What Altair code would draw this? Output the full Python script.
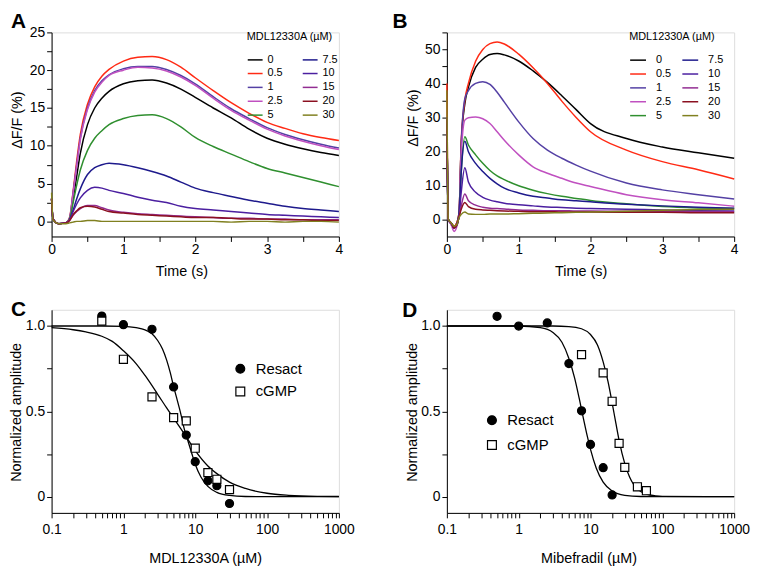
import altair as alt
import pandas as pd

FONT = "Liberation Sans"

# ---------------- Panel A traces (MDL12330A, resact) ----------------
tA = [0, 0.02, 0.1, 0.2, 0.25, 0.3, 0.35, 0.4, 0.5, 0.6, 0.7, 0.8, 1.0, 1.2, 1.4,
      1.6, 1.8, 2.0, 2.25, 2.5, 2.75, 3.0, 3.25, 3.5, 3.75, 4.0]
A_0 = [3, 0.3, -0.3, -0.2, 0.3, 3, 6, 9, 12.8, 15, 16.3, 17.2, 18.2, 18.6, 18.7, 18.3, 17.5, 16.4, 15.0, 13.7, 12.2, 11.0, 10.2, 9.6, 9.1, 8.7]
A_05 = [3, 0.3, -0.3, -0.2, 0.5, 4, 8, 11.5, 15.5, 17.8, 19.2, 20.1, 21.2, 21.7, 21.8, 21.4, 20.4, 19.0, 17.3, 15.7, 14.3, 13.1, 12.3, 11.6, 11.1, 10.7]
A_1 = [3, 0.3, -0.3, -0.2, 0.4, 3.8, 7.5, 11, 15, 17.3, 18.6, 19.4, 20.2, 20.5, 20.5, 20.1, 19.3, 18.2, 16.5, 14.9, 13.6, 12.4, 11.5, 10.8, 10.2, 9.7]
A_25 = [3, 0.3, -0.3, -0.2, 0.4, 3.7, 7.3, 10.8, 14.8, 17.1, 18.4, 19.3, 20.0, 20.4, 20.3, 19.9, 19.1, 18.0, 16.3, 14.7, 13.4, 12.2, 11.3, 10.6, 10.0, 9.5]
A_5 = [3, 0.3, -0.3, -0.2, 0.3, 2.5, 4.8, 6.8, 9.4, 11.0, 12.0, 12.8, 13.6, 14.0, 14.1, 13.6, 12.5, 11.1, 9.9, 8.9, 7.9, 7.0, 6.4, 5.8, 5.2, 4.6]
A_75 = [3, 0.3, -0.3, -0.2, 0.2, 1.5, 3.0, 4.3, 6.2, 7.1, 7.5, 7.7, 7.5, 7.1, 6.6, 6.0, 5.2, 4.4, 3.8, 3.3, 2.8, 2.4, 2.0, 1.7, 1.5, 1.3]
A_10 = [3, 0.3, -0.3, -0.2, 0.2, 1.3, 2.3, 3.1, 4.1, 4.5, 4.4, 4.1, 3.7, 3.2, 2.8, 2.5, 2.0, 1.7, 1.5, 1.3, 1.1, 0.9, 0.8, 0.7, 0.6, 0.5]
A_15 = [3, 0.3, -0.3, -0.2, 0.1, 0.8, 1.3, 1.7, 2.1, 2.1, 1.8, 1.5, 1.2, 1.0, 0.9, 0.8, 0.7, 0.6, 0.5, 0.4, 0.4, 0.3, 0.3, 0.2, 0.2, 0.2]
A_20 = [3, 0.3, -0.3, -0.2, 0.1, 0.9, 1.4, 1.8, 2.0, 1.9, 1.6, 1.3, 1.1, 0.9, 0.8, 0.7, 0.6, 0.5, 0.5, 0.4, 0.3, 0.3, 0.2, 0.2, 0.1, 0.1]
A_30 = [3.8, 0.2, -0.3, -0.3, -0.2, -0.1, 0.0, 0.0, 0.1, 0.1, 0.0, 0.0, 0.0, 0.0, 0.0, 0.0, 0.0, 0.0, 0.0, -0.1, 0.0, 0.0, -0.1, 0.0, 0.0, -0.1]

# ---------------- Panel B traces (MDL12330A, cGMP) ----------------
tB = [0, 0.02, 0.06, 0.1, 0.14, 0.17, 0.2, 0.25, 0.3, 0.4, 0.5, 0.6, 0.7, 0.8,
      1.0, 1.2, 1.4, 1.6, 1.8, 2.0, 2.5, 3.0, 3.5, 4.0]
B_0 = [30, 0, -1, -2, -1, 2, 22, 34, 38.9, 44.7, 47.1, 48.5, 48.8, 48.4, 46.6, 43.7, 40.3, 36.4, 32.3, 28.2, 23.8, 21.3, 19.6, 18.0]
B_05 = [40, 0, -1, -2, -1, 2, 23, 35, 40, 46.5, 50, 51.7, 52.2, 51.6, 48.6, 44.6, 40.0, 34.8, 30.0, 25.8, 20.4, 17.0, 14.6, 11.9]
B_1 = [30, 0, -1.5, -2.5, -1.5, 2, 22, 35.5, 37.9, 40, 40.5, 39.7, 37.4, 34.5, 28.7, 23.8, 20.4, 18.0, 16.0, 14.2, 10.7, 8.7, 7.3, 6.0]
B_25 = [30, 0, -1.5, -3.5, -2, 1.5, 19, 29.2, 29.9, 30.1, 29.6, 28.2, 25.8, 23.3, 19.0, 15.5, 13.6, 12.1, 10.7, 9.7, 7.3, 5.8, 4.9, 3.9]
B_5 = [30, 0, -1, -2.5, -1.5, 1.5, 14, 24.3, 21.9, 19.0, 16.5, 14.4, 12.8, 11.7, 9.9, 8.6, 7.6, 6.8, 6.2, 5.6, 4.6, 3.8, 3.4, 3.2]
B_75 = [30, 0, -1, -2.5, -1.5, 1.5, 14, 23.0, 19.9, 16.5, 14.1, 12.1, 10.5, 9.2, 7.8, 6.8, 6.3, 5.8, 5.5, 5.2, 4.5, 4.0, 3.6, 3.3]
B_10 = [30, 0, -1, -2.5, -1.5, 1, 8, 15.2, 11, 8, 6.5, 5.7, 5.2, 4.8, 4.3, 4.0, 3.7, 3.5, 3.3, 3.2, 3.0, 2.8, 2.6, 2.5]
B_15 = [30, 0, -1, -2.5, -1.5, 0.8, 4, 7.5, 5.5, 4.2, 3.6, 3.3, 3.2, 3.1, 2.8, 2.7, 2.6, 2.6, 2.5, 2.5, 2.4, 2.4, 2.3, 2.3]
B_20 = [30, 0, -1, -2.5, -1.5, 0.8, 3, 5.0, 3.8, 3.0, 2.8, 2.7, 2.6, 2.5, 2.4, 2.3, 2.3, 2.2, 2.2, 2.2, 2.1, 2.1, 2.0, 2.0]
B_30 = [38, 0, -1, -2, -1.5, 0.5, 1.5, 2.2, 1.6, 1.5, 1.5, 1.6, 1.6, 1.6, 1.7, 1.8, 1.9, 2.0, 2.1, 2.2, 2.4, 2.7, 2.9, 3.0]

concs = ["0", "0.5", "1", "2.5", "5", "7.5", "10", "15", "20", "30"]
conc_colors = ["#000000", "#ff2a14", "#5440a4", "#c050c0", "#2f8f2f",
               "#1e1a8c", "#4b1fa0", "#922c92", "#8b1020", "#808020"]

# ---------------- Panel C (MDL12330A dose response) ----------------
C_dose = [0.5, 1, 2.5, 5, 7.5, 10, 15, 20, 30]
C_resact = [1.058, 1.008, 0.981, 0.643, 0.361, 0.205, 0.093, 0.064, -0.04]
C_cgmp = [1.029, 0.805, 0.585, 0.463, 0.444, 0.284, 0.141, 0.102, 0.041]
C_fitR_x = [0.1, 0.5, 1, 1.5, 2, 2.5, 3, 3.5, 4, 4.5, 5, 5.5, 6, 6.5, 7, 7.5, 8, 9, 10, 12, 15, 20, 30, 50, 100, 1000]
C_fitR_y = [1.0, 1.0, 0.998, 0.99, 0.977, 0.955, 0.915, 0.865, 0.80, 0.725, 0.645, 0.58, 0.52, 0.46, 0.40, 0.36, 0.32, 0.25, 0.19, 0.115, 0.06, 0.025, 0.007, 0.001, 0.0, 0.0]
C_fitG_x = [0.1, 0.2, 0.3, 0.5, 0.7, 1, 1.5, 2, 3, 4, 5, 7, 10, 15, 20, 30, 50, 100, 200, 500, 1000]
C_fitG_y = [0.99, 0.978, 0.965, 0.94, 0.91, 0.855, 0.78, 0.71, 0.6, 0.52, 0.46, 0.37, 0.27, 0.18, 0.135, 0.085, 0.048, 0.02, 0.008, 0.002, 0.001]

# ---------------- Panel D (Mibefradil dose response) ----------------
D_dose_R = [0.5, 1, 2.5, 5, 7.5, 10, 15, 20]
D_resact = [1.057, 1.0, 1.018, 0.78, 0.503, 0.306, 0.17, 0.01]
D_dose_G = [7.5, 15, 20, 25, 30, 45, 60]
D_cgmp = [0.832, 0.725, 0.559, 0.312, 0.172, 0.058, 0.035]
D_fitR_x = [0.1, 1, 2, 3, 4, 5, 6, 7, 8, 9, 10, 12, 15, 20, 30, 50, 100, 1000]
D_fitR_y = [1, 1, 0.99, 0.962, 0.905, 0.81, 0.696, 0.571, 0.455, 0.356, 0.277, 0.168, 0.085, 0.033, 0.008, 0.001, 0, 0]
D_fitG_x = [0.1, 1, 3, 5, 7.5, 10, 12.5, 15, 17.5, 20, 22.5, 25, 30, 35, 40, 50, 60, 80, 100, 1000]
D_fitG_y = [1, 1, 1.0, 0.997, 0.984, 0.95, 0.889, 0.79, 0.675, 0.55, 0.432, 0.33, 0.194, 0.115, 0.07, 0.03, 0.015, 0.005, 0.002, 0]

log_ticks = [0.1, 0.2, 0.3, 0.4, 0.5, 0.6, 0.7, 0.8, 0.9,
             1, 2, 3, 4, 5, 6, 7, 8, 9,
             10, 20, 30, 40, 50, 60, 70, 80, 90,
             100, 200, 300, 400, 500, 600, 700, 800, 900, 1000]

W = 290
H1 = 206
H2 = 205

AX = dict(grid=False, domainColor="black", tickColor="black", labelColor="black",
          titleColor="black", labelFont=FONT, titleFont=FONT, labelFontSize=14,
          titleFontSize=14.5, titleFontWeight="normal", labelFlush=False,
          labelOverlap=False, domainWidth=1, tickWidth=1)


def traces_df(t, series):
    rows = []
    for c, vals in zip(concs, series):
        for ti, v in zip(t, vals):
            rows.append({"t": ti, "v": v, "conc": c})
    return pd.DataFrame(rows)


def letter(lab, dx, dy):
    return alt.Chart(pd.DataFrame({"lab": [lab]})).mark_text(
        align="left", baseline="alphabetic", fontSize=21, fontWeight="bold",
        font=FONT, color="black").encode(text="lab:N", x=alt.value(dx), y=alt.value(dy))


def trace_panel(df, ydom, yvals, ylabexpr, ytitleY, xtitleX, leg_x, sym_size, lab_off, col_pad,
                row_pad, title_pad, lab):
    x_axis = alt.Axis(values=[0, 0.5, 1, 1.5, 2, 2.5, 3, 3.5, 4],
                      labelExpr="datum.value % 1 === 0 ? format(datum.value, 'd') : ''",
                      tickSize=5, labelPadding=1, title="Time (s)", titleX=xtitleX, titleY=39,
                      titleBaseline="alphabetic", **AX)
    y_axis = alt.Axis(values=yvals, labelExpr=ylabexpr,
                      tickSize=5, labelPadding=2, title="ΔF/F (%)", titleX=-27, titleY=ytitleY,
                      titleAngle=-90, titleBaseline="bottom", **AX)
    lines = alt.Chart(df).mark_line(strokeWidth=1.5, interpolate="monotone").encode(
        x=alt.X("t:Q", scale=alt.Scale(domain=[0, 4], nice=False, zero=False), axis=x_axis),
        y=alt.Y("v:Q", scale=alt.Scale(domain=ydom, nice=False, zero=False), axis=y_axis),
        color=alt.Color("conc:N", scale=alt.Scale(domain=concs, range=conc_colors),
                        legend=alt.Legend(title="MDL12330A (µM)", orient="none", legendX=leg_x, legendY=-1,
                                          columns=2, symbolType="stroke", symbolSize=sym_size,
                                          symbolStrokeWidth=1.5, labelFontSize=11, titleFontSize=11,
                                          titleFontWeight="normal", titleFont=FONT, labelFont=FONT,
                                          titleColor="black", labelColor="black", labelOffset=lab_off,
                                          columnPadding=col_pad, rowPadding=row_pad, titlePadding=title_pad,
                                          padding=0)),
        detail="conc:N",
    )
    return alt.layer(lines, lab).properties(width=W, height=H1)


dfA = traces_df(tA, [A_0, A_05, A_1, A_25, A_5, A_75, A_10, A_15, A_20, A_30])
dfB = traces_df(tB, [B_0, B_05, B_1, B_25, B_5, B_75, B_10, B_15, B_20, B_30])

panelA = trace_panel(dfA, [-2, 25], [0, 2.5, 5, 7.5, 10, 12.5, 15, 17.5, 20, 22.5, 25],
                     "datum.value % 5 === 0 ? format(datum.value, 'd') : ''",
                     88, 131, 197, 225, 4, 16.5, -4.1, 9, letter("A", -41, -4))
panelB = trace_panel(dfB, [-5, 55], [0, 5, 10, 15, 20, 25, 30, 35, 40, 45, 50, 55],
                     "(datum.value % 10 === 0 && datum.value <= 50) ? format(datum.value, 'd') : ''",
                     86, 135, 184, 256, 9, 7.7, -4.7, 9, letter("B", -55, -4))

LOG_LAB = ("datum.value === 0.1 ? '0.1' : datum.value === 1 ? '1' : datum.value === 10 ? '10' : "
           "datum.value === 100 ? '100' : datum.value === 1000 ? '1000' : ''")
Y_LAB = "datum.value === 0 ? '0' : datum.value === 0.5 ? '0.5' : datum.value === 1 ? '1.0' : ''"


def dose_panel(pts, fits, xtitle, xtitleX, legX, legY, rowpad, lab):
    x_axis = alt.Axis(values=log_ticks, labelExpr=LOG_LAB,
                      tickSize=5, labelPadding=5, title=xtitle, titleX=xtitleX, titleY=50,
                      titleBaseline="alphabetic", **AX)
    y_axis = alt.Axis(values=[0, 0.25, 0.5, 0.75, 1.0], labelExpr=Y_LAB,
                      tickSize=5, labelPadding=2, title="Normalized amplitude", titleX=-28, titleY=103,
                      titleAngle=-90, titleBaseline="bottom", **AX)
    xs = alt.Scale(type="log", domain=[0.1, 1000], nice=False)
    ys = alt.Scale(domain=[-0.095, 1.095], nice=False, zero=False)
    fit = alt.Chart(fits).mark_line(color="black", strokeWidth=1.3, interpolate="monotone").encode(
        x=alt.X("x:Q", scale=xs, axis=x_axis),
        y=alt.Y("y:Q", scale=ys, axis=y_axis),
        detail="series:N",
    )
    leg = alt.Legend(title=None, orient="none", legendX=legX, legendY=legY, labelFontSize=15,
                     labelFont=FONT, labelColor="black", rowPadding=rowpad, labelOffset=8,
                     symbolStrokeWidth=1.2, symbolSize=80, padding=0)
    dom = ["Resact", "cGMP"]
    points = alt.Chart(pts).mark_point(filled=True, strokeWidth=1.2, size=66,
                                       opacity=1, fillOpacity=1).encode(
        x=alt.X("x:Q", scale=xs, axis=x_axis),
        y=alt.Y("y:Q", scale=ys, axis=y_axis),
        shape=alt.Shape("series:N", scale=alt.Scale(domain=dom, range=["circle", "square"]), legend=leg),
        fill=alt.Fill("series:N", scale=alt.Scale(domain=dom, range=["black", "white"]), legend=leg),
        stroke=alt.Stroke("series:N", scale=alt.Scale(domain=dom, range=["black", "black"]), legend=leg),
    )
    return alt.layer(fit, points, lab).properties(width=W, height=H2)


ptsC = pd.DataFrame({"x": C_dose + C_dose, "y": C_resact + C_cgmp,
                     "series": ["Resact"] * len(C_dose) + ["cGMP"] * len(C_dose)})
fitsC = pd.DataFrame({"x": C_fitR_x + C_fitG_x, "y": C_fitR_y + C_fitG_y,
                      "series": ["Resact"] * len(C_fitR_x) + ["cGMP"] * len(C_fitG_x)})
ptsD = pd.DataFrame({"x": D_dose_R + D_dose_G, "y": D_resact + D_cgmp,
                     "series": ["Resact"] * len(D_dose_R) + ["cGMP"] * len(D_dose_G)})
fitsD = pd.DataFrame({"x": D_fitR_x + D_fitG_x, "y": D_fitR_y + D_fitG_y,
                      "series": ["Resact"] * len(D_fitR_x) + ["cGMP"] * len(D_fitG_x)})

panelC = dose_panel(ptsC, fitsC, "MDL12330A (µM)", 155, 183, 52, 7, letter("C", -41, 6))
panelD = dose_panel(ptsD, fitsD, "Mibefradil (µM)", 143, 38, 104, 9, letter("D", -45, 7))

chart = alt.concat(panelA, panelB, panelC, panelD, columns=2,
                   spacing={"row": 74, "column": 109}, bounds="flush", padding=0).resolve_scale(
    x="independent", y="independent", color="independent", shape="independent", fill="independent",
    stroke="independent"
).configure_view(stroke=None).configure(font=FONT)

chart.save("out.html", embed_options={"renderer": "svg", "actions": False})
